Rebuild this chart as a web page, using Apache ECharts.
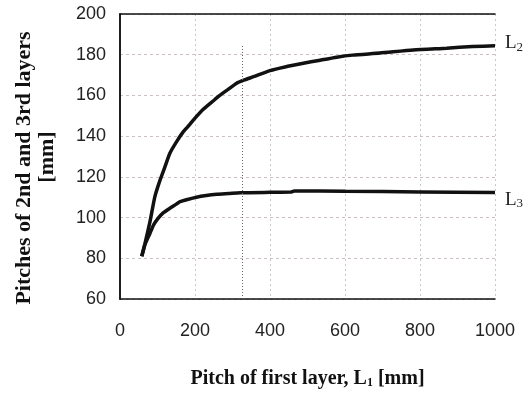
<!DOCTYPE html>
<html>
<head>
<meta charset="utf-8">
<script src="https://cdn.jsdelivr.net/npm/echarts@6/dist/echarts.min.js"></script>
<style>html,body{margin:0;padding:0;background:#fff}#c{width:526px;height:396px}</style>
</head>
<body>
<div id="c"></div>
<script>
const xTicks = [0, 200, 400, 600, 800, 1000];
const yTicks = [60, 80, 100, 120, 140, 160, 180, 200];

const l2X = [58, 62, 70, 80, 93, 107, 120, 133, 151, 169, 185, 196, 222, 253, 267, 290, 311, 330, 356, 400, 440, 489, 530, 578, 620, 693, 782, 871, 940, 1000];
const l2Y = [81, 83.5, 90, 98, 110.3, 118.5, 125, 131.6, 137.3, 142.2, 145.5, 148, 153.2, 158, 160.2, 163.2, 166, 167.5, 169.2, 172.2, 174, 175.8, 177.2, 178.8, 179.8, 180.8, 182.3, 183.2, 184, 184.4];

const l3X = [58, 65, 80, 90, 102, 115, 133, 150, 160, 180, 204, 230, 258, 290, 320, 400, 455, 465, 600, 800, 1000];
const l3Y = [81, 86, 92.3, 96.5, 99.7, 102.3, 104.6, 106.6, 107.8, 108.9, 110, 110.8, 111.4, 111.8, 112.2, 112.4, 112.5, 113.1, 112.9, 112.6, 112.3];

const refLineX = 325;
const refLineTop = 184.5;

const xTitle = '{b|Pitch of first layer, L}{s|1}{b| [mm]}';
const yTitle1 = 'Pitches of 2nd and 3rd layers';
const yTitle2 = '[mm]';

const pair = (xs, ys) => xs.map((x, i) => [x, ys[i]]);

const chart = echarts.init(document.getElementById('c'), null, {renderer: 'canvas'});
const serif = '"Liberation Serif", "Times New Roman", serif';
const sans = '"Liberation Sans", Arial, sans-serif';
const frameLine = {show: true, lineStyle: {color: '#111', width: 1.5}};

chart.setOption({
  animation: false,
  backgroundColor: '#fff',
  grid: {left: 120, right: 31, top: 14, bottom: 97, containLabel: false, outerBoundsMode: 'none'},
  xAxis: [{
    type: 'value', min: xTicks[0], max: xTicks[xTicks.length - 1], interval: 200,
    axisLine: frameLine,
    axisTick: {show: false},
    axisLabel: {fontFamily: sans, fontSize: 18, color: '#222', margin: 23, formatter: v => String(v)},
    splitLine: {show: true, lineStyle: {color: '#c8c8c8', type: [2, 3], width: 1}},
    name: xTitle,
    nameLocation: 'middle', nameGap: 69,
    nameTextStyle: {
      rich: {
        b: {fontFamily: serif, fontWeight: 'bold', fontSize: 20, color: '#111'},
        s: {fontFamily: serif, fontWeight: 'bold', fontSize: 12, color: '#111', padding: [9, 0, 0, 0]}
      }
    }
  }, {
    type: 'value', position: 'top', min: xTicks[0], max: xTicks[xTicks.length - 1], interval: 200,
    axisLine: frameLine, axisTick: {show: false}, axisLabel: {show: false}, splitLine: {show: false}
  }],
  yAxis: [{
    type: 'value', min: yTicks[0], max: yTicks[yTicks.length - 1], interval: 20,
    axisLine: frameLine,
    axisTick: {show: false},
    axisLabel: {fontFamily: sans, fontSize: 18, color: '#222', margin: 14},
    splitLine: {show: true, lineStyle: {color: '#cbbfbf', type: [3, 3], width: 1}}
  }, {
    type: 'value', position: 'right', min: yTicks[0], max: yTicks[yTicks.length - 1], interval: 20,
    axisLine: frameLine, axisTick: {show: false}, axisLabel: {show: false}, splitLine: {show: false}
  }],
  graphic: [
    {type: 'text', x: 24, y: 168, rotation: Math.PI / 2,
     style: {text: yTitle1, font: 'bold 22px ' + serif, fill: '#111', align: 'center', verticalAlign: 'middle'}},
    {type: 'text', x: 47, y: 157, rotation: Math.PI / 2,
     style: {text: yTitle2, font: 'bold 22px ' + serif, fill: '#111', align: 'center', verticalAlign: 'middle'}}
  ],
  series: [
    {
      type: 'line', data: pair(l2X, l2Y), showSymbol: false, smooth: 0.2,
      lineStyle: {color: '#111', width: 3.5},
      endLabel: {
        show: true, distance: 10, offset: [0, -3],
        formatter: '{a|L}{s|2}',
        rich: {
          a: {fontFamily: serif, fontSize: 19, color: '#222'},
          s: {fontFamily: serif, fontSize: 13, color: '#222', padding: [9, 0, 0, 0]}
        }
      },
      markLine: {
        silent: true, symbol: 'none', label: {show: false},
        lineStyle: {color: '#666', type: [1, 2], width: 1},
        data: [[{coord: [refLineX, yTicks[0]]}, {coord: [refLineX, refLineTop]}]]
      }
    },
    {
      type: 'line', data: pair(l3X, l3Y), showSymbol: false, smooth: 0.2,
      lineStyle: {color: '#111', width: 3.5},
      endLabel: {
        show: true, distance: 10, offset: [0, 7],
        formatter: '{a|L}{s|3}',
        rich: {
          a: {fontFamily: serif, fontSize: 19, color: '#222'},
          s: {fontFamily: serif, fontSize: 13, color: '#222', padding: [9, 0, 0, 0]}
        }
      }
    }
  ]
});
</script>
</body>
</html>
